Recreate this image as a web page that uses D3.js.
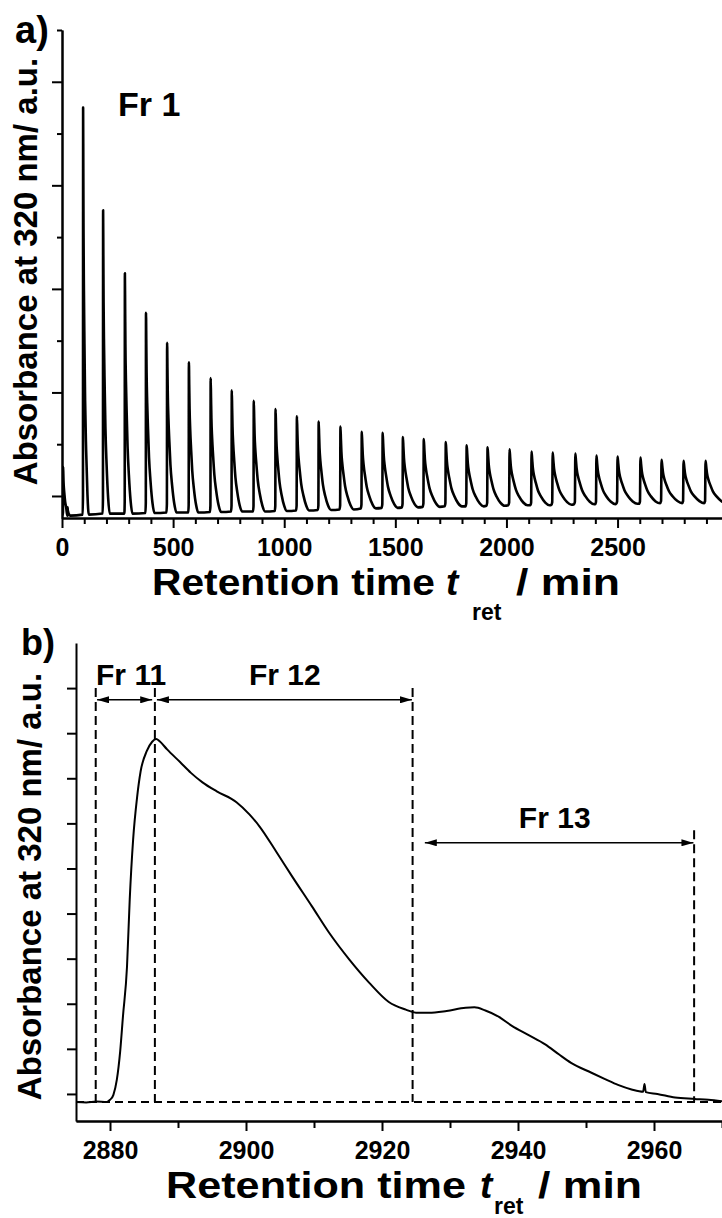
<!DOCTYPE html>
<html>
<head>
<meta charset="utf-8">
<title>Chromatogram fractions</title>
<script src="https://cdnjs.cloudflare.com/ajax/libs/d3/7.8.5/d3.min.js"></script>
<style>
  body { margin: 0; background: #fff; }
  svg { display: block; }
  text { font-family: "Liberation Sans", Arial, sans-serif; font-weight: bold; fill: #000; }
  .axis path, .axis line { stroke: #000; stroke-width: 2; }
</style>
</head>
<body>
<script>
// ---- panel a: repeated injections (apex time, apex height, valley level, tail width)
var peakTimesA = [5, 25, 95, 185, 283, 378, 473, 571, 669, 764, 863, 961, 1057, 1155, 1253, 1349,
  1443, 1534, 1628, 1727, 1821, 1915, 2014, 2113, 2208, 2310, 2405, 2500, 2603, 2698, 2797, 2896]
var peakHeightsA = [0.28, -0.11, 3.75, 2.76, 2.15, 1.77, 1.48, 1.29, 1.14, 1.02, 0.92, 0.84, 0.77, 0.72, 0.67, 0.62,
  0.61, 0.57, 0.55, 0.52, 0.49, 0.47, 0.45, 0.43, 0.42, 0.41, 0.39, 0.38, 0.37, 0.35, 0.34, 0.34]
var baseLevelsA = [-0.18, -0.19, -0.18, -0.17, -0.17, -0.165, -0.16, -0.16, -0.155, -0.15, -0.15, -0.145, -0.14, -0.135, -0.13, -0.12,
  -0.115, -0.11, -0.105, -0.1, -0.1, -0.095, -0.09, -0.09, -0.085, -0.08, -0.08, -0.075, -0.075, -0.07, -0.07, -0.07]
var peakWidthsA = [0.3, 0.15, 0.3, 0.35, 0.4, 0.45, 0.5, 0.5, 0.55, 0.55, 0.6, 0.6, 0.65, 0.65, 0.7, 0.75,
  0.8, 0.8, 0.85, 0.85, 0.9, 0.9, 0.95, 0.95, 1, 1, 1, 1.05, 1.05, 1.1, 1.1, 1.1]
// shape of one peak: minutes from apex, fraction of apex height
var profileT = [-6, -2, 0, 3, 6, 12, 20, 30, 45, 65, 85]
var profileF = [0, 0.05, 1, 0.85, 0.7, 0.55, 0.42, 0.28, 0.16, 0.05, 0]
var xTicksA = [0, 500, 1000, 1500, 2000, 2500]

// ---- panel b: one chromatogram, time (min) and absorbance
var timesB = [2875.0, 2876.5, 2878.0, 2879.5, 2880.0, 2880.5, 2881.0, 2881.5, 2881.9, 2882.5, 2882.9, 2883.4,
  2884.0, 2884.5, 2885.4, 2886.2, 2886.8, 2887.3, 2888.4, 2890.3, 2891.9, 2893.6, 2895.7, 2898.6, 2900.5,
  2902.0, 2904.5, 2906.8, 2909.7, 2912.2, 2915.2, 2918.1, 2921.0, 2923.5, 2925.0, 2926.9, 2929.5, 2932.3,
  2933.6, 2935.2, 2937.2, 2939.1, 2941.5, 2944.0, 2946.0, 2947.8, 2950.8, 2952.8, 2954.7, 2956.7, 2958.4,
  2958.6, 2958.8, 2960.5, 2963.1, 2966.0, 2968.0, 2970.0]
var absB = [-0.18, -0.19, -0.17, -0.18, -0.13, -0.02, 0.31, 0.95, 1.71, 2.82, 4.31, 5.64,
  6.6, 7.15, 7.6, 7.81, 7.87, 7.82, 7.64, 7.36, 7.12, 6.91, 6.71, 6.47, 6.2,
  5.93, 5.36, 4.82, 4.16, 3.58, 2.98, 2.47, 2.04, 1.87, 1.80, 1.80, 1.84, 1.91,
  1.92, 1.85, 1.71, 1.51, 1.31, 1.1, 0.88, 0.69, 0.47, 0.33, 0.2, 0.1, 0.05,
  0.22, 0.04, 0.0, -0.08, -0.11, -0.13, -0.16]
var xTicksB = [2880, 2900, 2920, 2940, 2960]
var cutTimes = [2877.9, 2886.6, 2924.5, 2965.9]
var cutTops = [9.0, 9.0, 9.0, 5.85]
var baseLevelB = -0.18
var fracLabels = ['Fr 11', 'Fr 12', 'Fr 13']
var fracStart = [2878.1, 2886.9, 2926.3]
var fracEnd = [2886.2, 2924.4, 2965.8]
var fracLevel = [8.74, 8.74, 5.57]
var fracLabelT = [2883.1, 2905.7, 2945.4]

var font = '"Liberation Sans", Arial, sans-serif'
var svg = d3.select('body').append('svg').attr('width', 722).attr('height', 1218)

svg.append('defs').append('marker')
    .attr('id', 'head')
    .attr('viewBox', '0 0 12 7')
    .attr('refX', 12).attr('refY', 3.5)
    .attr('markerWidth', 12).attr('markerHeight', 7)
    .attr('markerUnits', 'userSpaceOnUse')
    .attr('orient', 'auto-start-reverse')
    .append('path').attr('d', 'M0,0 L12,3.5 L0,7 Z').attr('fill', '#000')

function styleAxis(g) {
    g.attr('font-family', font).attr('font-size', 25).attr('font-weight', 'bold')
    g.selectAll('text').attr('fill', '#000')
}

// ================= panel a =================
var xA = d3.scaleLinear().domain([0, 2970]).range([62, 722])
var yA = d3.scaleLinear().domain([-0.2126, 4.5]).range([518, 30])

svg.append('clipPath').attr('id', 'clipA')
    .append('rect').attr('x', 62).attr('y', 20).attr('width', 660).attr('height', 500)

var ptsA = [[0, baseLevelsA[0]]]
peakTimesA.forEach(function (tp, i) {
    var b = baseLevelsA[i], h = peakHeightsA[i], w = peakWidthsA[i]
    var next = i < peakTimesA.length - 1 ? peakTimesA[i + 1] + profileT[0] * peakWidthsA[i + 1] : Infinity
    profileT.forEach(function (dt, k) {
        var t = tp + dt * w
        if (t >= next || t <= ptsA[ptsA.length - 1][0]) return
        ptsA.push([t, b + profileF[k] * (h - b)])
    })
})

svg.append('path')
    .datum(ptsA)
    .attr('clip-path', 'url(#clipA)')
    .attr('fill', 'none')
    .attr('stroke', '#000')
    .attr('stroke-width', 2.6)
    .attr('stroke-linejoin', 'round')
    .attr('d', d3.line()
        .x(function (d) { return xA(d[0]) })
        .y(function (d) { return yA(d[1]) })
        .curve(d3.curveMonotoneX))

// x axis a
svg.append('g').attr('class', 'axis').attr('transform', 'translate(0,518)')
    .call(d3.axisBottom(xA).tickValues(d3.range(100, 2971, 100).filter(function (v) { return v % 500 })).tickSize(6).tickSizeOuter(0).tickFormat(''))
svg.append('g').attr('class', 'axis').attr('transform', 'translate(0,518)')
    .call(d3.axisBottom(xA).tickValues(xTicksA).tickSize(10).tickSizeOuter(0).tickPadding(10).tickFormat(d3.format('d')))
    .call(styleAxis)
// y axis a
svg.append('g').attr('class', 'axis').attr('transform', 'translate(62,0)')
    .call(d3.axisLeft(yA).tickValues([0.5, 1.5, 2.5, 3.5, 4.5]).tickSize(5).tickSizeOuter(0).tickFormat(''))
svg.append('g').attr('class', 'axis').attr('transform', 'translate(62,0)')
    .call(d3.axisLeft(yA).tickValues([0, 1, 2, 3, 4]).tickSize(10).tickSizeOuter(0).tickFormat(''))

svg.append('text').attr('x', 15).attr('y', 43).attr('font-size', 38).text('a)')
svg.append('text').attr('x', 118).attr('y', 116).attr('font-size', 34).text('Fr 1')
svg.append('text')
    .attr('transform', 'translate(37,271.5) rotate(-90)')
    .attr('text-anchor', 'middle').attr('font-size', 33)
    .text('Absorbance at 320 nm/ a.u.')

function xLabel(x0, base, mainLen, tX, retX, retDy, slashX) {
    var g = svg.append('g')
    g.append('text').attr('x', x0).attr('y', base).attr('font-size', 37)
        .attr('textLength', mainLen).attr('lengthAdjust', 'spacingAndGlyphs').text('Retention time')
    g.append('text').attr('x', tX).attr('y', base).attr('font-size', 37).attr('font-style', 'italic').text('t')
    g.append('text').attr('x', retX).attr('y', base + retDy).attr('font-size', 23).text('ret')
    g.append('text').attr('x', slashX).attr('y', base).attr('font-size', 37)
        .attr('textLength', 104).attr('lengthAdjust', 'spacingAndGlyphs').text('/ min')
}
xLabel(152, 595, 283, 446, 472, 25, 516)

// ================= panel b =================
var xB = d3.scaleLinear().domain([2875, 2970]).range([76, 722])
var yB = d3.scaleLinear().domain([-0.6, 10]).range([1121, 643])

svg.append('g').attr('class', 'axis').attr('transform', 'translate(0,1121)')
    .call(d3.axisBottom(xB).tickValues([2890, 2910, 2930, 2950, 2970]).tickSize(7).tickSizeOuter(0).tickFormat(''))
svg.append('g').attr('class', 'axis').attr('transform', 'translate(0,1121)')
    .call(d3.axisBottom(xB).tickValues(xTicksB).tickSize(10).tickSizeOuter(0).tickPadding(10).tickFormat(d3.format('d')))
    .call(styleAxis)
svg.append('g').attr('class', 'axis').attr('transform', 'translate(76,0)')
    .call(d3.axisLeft(yB).tickValues(d3.range(0, 10)).tickSize(9).tickSizeOuter(0).tickFormat(''))

// dashed fraction cuts and baseline
svg.append('line')
    .attr('x1', xB(2875)).attr('x2', xB(2970))
    .attr('y1', yB(baseLevelB)).attr('y2', yB(baseLevelB))
    .attr('stroke', '#000').attr('stroke-width', 2).attr('stroke-dasharray', '8,5')
svg.selectAll('.cut').data(cutTimes).enter().append('line')
    .attr('class', 'cut')
    .attr('x1', function (d) { return xB(d) }).attr('x2', function (d) { return xB(d) })
    .attr('y1', function (d, i) { return yB(cutTops[i]) }).attr('y2', yB(baseLevelB))
    .attr('stroke', '#000').attr('stroke-width', 2).attr('stroke-dasharray', '9,5')

svg.append('path')
    .datum(timesB.map(function (t, i) { return [t, absB[i]] }))
    .attr('fill', 'none')
    .attr('stroke', '#000')
    .attr('stroke-width', 2)
    .attr('d', d3.line()
        .x(function (d) { return xB(d[0]) })
        .y(function (d) { return yB(d[1]) })
        .curve(d3.curveMonotoneX))

svg.selectAll('.frac').data(fracLabels).enter().append('line')
    .attr('class', 'frac')
    .attr('x1', function (d, i) { return xB(fracStart[i]) })
    .attr('x2', function (d, i) { return xB(fracEnd[i]) })
    .attr('y1', function (d, i) { return yB(fracLevel[i]) })
    .attr('y2', function (d, i) { return yB(fracLevel[i]) })
    .attr('stroke', '#000').attr('stroke-width', 1.5)
    .attr('marker-start', 'url(#head)').attr('marker-end', 'url(#head)')
svg.selectAll('.fraclabel').data(fracLabels).enter().append('text')
    .attr('class', 'fraclabel')
    .attr('x', function (d, i) { return xB(fracLabelT[i]) })
    .attr('y', function (d, i) { return yB(fracLevel[i]) - 15 })
    .attr('text-anchor', 'middle').attr('font-size', 30)
    .text(function (d) { return d })

svg.append('text').attr('x', 21).attr('y', 655).attr('font-size', 36).text('b)')
svg.append('text')
    .attr('transform', 'translate(41,886.5) rotate(-90)')
    .attr('text-anchor', 'middle').attr('font-size', 33)
    .text('Absorbance at 320 nm/ a.u.')
xLabel(166, 1198, 300, 480, 494, 16, 538)
</script>
</body>
</html>
